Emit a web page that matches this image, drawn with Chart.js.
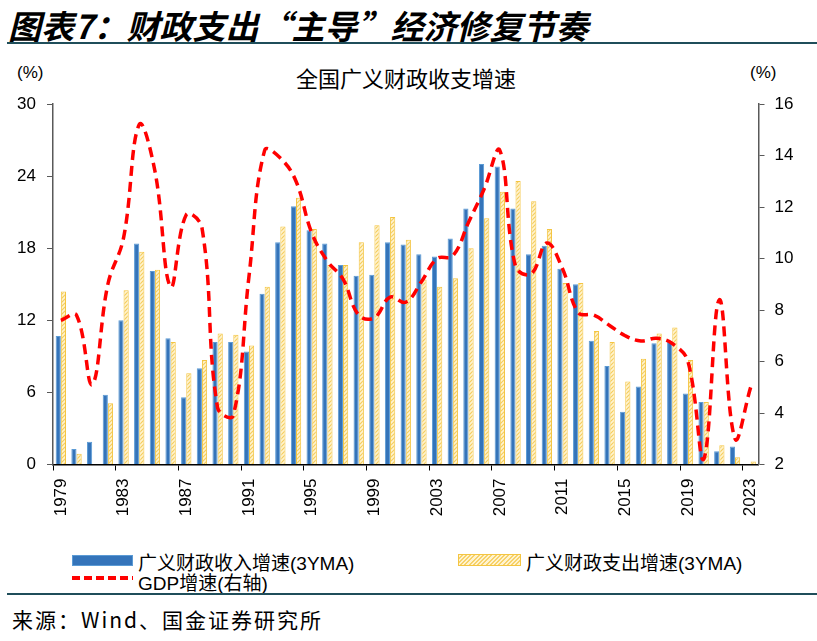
<!DOCTYPE html>
<html>
<head>
<meta charset="utf-8">
<script src="https://cdn.jsdelivr.net/npm/chart.js@4.4.1/dist/chart.umd.min.js"></script>
<style>
    body { margin: 0; width: 817px; height: 641px; background: #fff; position: relative; overflow: hidden;
           font-family: "Liberation Sans", "Noto Sans CJK SC", sans-serif; color: #000; }
    .abs { position: absolute; white-space: nowrap; }
    #header { left: 8px; top: 1px; font-size: 33px; font-weight: bold; font-style: italic; font-family: "Noto Sans CJK SC", sans-serif; }
    .rule { position: absolute; left: 7px; right: 0; height: 2px; background: #1f4e5a; }
    #chartBox { position: absolute; left: 0; top: 60px; width: 817px; height: 470px; }
    .sw { position: absolute; }
</style>
</head>
<body>
<div id="header" class="abs">图表7：财政支出“主导”经济修复节奏</div>
<div class="rule" style="top:42px"></div>

<div class="abs" style="left:17px; top:63px; font-size:17px;">(%)</div>
<div class="abs" style="left:750px; top:63px; font-size:17px;">(%)</div>
<div class="abs" style="left:296px; top:61px; font-size:22px; font-family:'Noto Sans CJK SC', sans-serif;">全国广义财政收支增速</div>

<div id="chartBox"><canvas id="fiscalChart"></canvas></div>

<!-- legenda -->
<div class="sw" style="left:72px; top:555px; width:59px; height:9px; background:#3474BA; border:1px solid #5B9BD5;"></div>
<div class="abs" style="left:138px; top:548px; font-size:19px;">广义财政收入增速(3YMA)</div>
<div class="sw" style="left:458px; top:554px; width:61px; height:10px; border:1px solid #F4C542;
     background: repeating-linear-gradient(135deg, #FFF3CF 0px, #FFF3CF 1.5px, #F7D26A 1.5px, #F7D26A 3px);"></div>
<div class="abs" style="left:526px; top:548px; font-size:19px;">广义财政支出增速(3YMA)</div>
<div class="sw" style="left:72px; top:576px; width:61px; height:4px;
     background: repeating-linear-gradient(90deg, #FF0000 0px, #FF0000 8px, transparent 8px, transparent 12px);"></div>
<div class="abs" style="left:138px; top:568px; font-size:19px;">GDP增速(右轴)</div>

<div class="rule" style="top:593px"></div>
<div class="abs" style="left:12px; top:604px; font-size:21px; letter-spacing:2px; font-family:'Noto Sans CJK SC', sans-serif;">来源：Wind、国金证券研究所</div>

<script>
// Anos (categorias)
const years = ['1979','1980','1981','1982','1983','1984','1985','1986','1987','1988',
    '1989','1990','1991','1992','1993','1994','1995','1996','1997','1998',
    '1999','2000','2001','2002','2003','2004','2005','2006','2007','2008',
    '2009','2010','2011','2012','2013','2014','2015','2016','2017','2018',
    '2019','2020','2021','2022','2023'];

// 广义财政收入增速(3YMA), eixo esquerdo
const revenueGrowth = [10.7, 1.3, 1.9, 5.8, 12.0, 18.4, 16.1, 10.5, 5.6, 8.0,
    10.2, 10.2, 9.4, 14.2, 18.5, 21.5, 19.5, 18.4, 16.6, 15.7,
    15.8, 18.5, 18.3, 17.5, 17.3, 18.8, 21.3, 25.0, 24.8, 21.3,
    17.5, 18.2, 16.3, 15.0, 10.3, 8.2, 4.4, 6.5, 10.1, 10.2,
    5.9, 5.2, 1.1, 1.5, null];

// 广义财政支出增速(3YMA), eixo esquerdo
const spendingGrowth = [14.4, 0.9, null, 5.1, 14.5, 17.7, 16.2, 10.2, 7.6, 8.7,
    10.9, 10.8, 9.9, 14.8, 19.8, 22.2, 19.6, 16.6, 16.6, 18.5,
    19.9, 20.6, 18.7, 15.4, 14.8, 15.5, 18.0, 20.5, 22.7, 23.6,
    21.9, 19.6, 15.1, 15.1, 11.1, 10.2, 6.9, 8.8, 10.9, 11.4,
    8.7, 5.2, 1.6, 0.6, 0.25];

// GDP增速, eixo direito
const gdpGrowth = [7.6, 7.8, 5.1, 9.0, 10.8, 15.2, 13.4, 8.9, 11.7, 11.2,
    4.2, 3.9, 9.3, 14.2, 13.9, 13.0, 11.0, 9.9, 9.2, 7.8,
    7.7, 8.5, 8.3, 9.1, 10.0, 10.1, 11.4, 12.7, 14.2, 9.7,
    9.4, 10.6, 9.6, 7.9, 7.8, 7.4, 7.0, 6.8, 6.9, 6.7,
    6.0, 2.2, 8.4, 3.0, 5.0];

// Textura hachurada para as barras de despesa
function makeHatch() {
    const c = document.createElement('canvas');
    c.width = 4; c.height = 4;
    const g = c.getContext('2d');
    g.fillStyle = '#FFF3CF';
    g.fillRect(0, 0, 4, 4);
    g.strokeStyle = '#F5CE5E';
    g.lineWidth = 1.2;
    g.beginPath();
    g.moveTo(0, 4); g.lineTo(4, 0);
    g.moveTo(-1, 1); g.lineTo(1, -1);
    g.moveTo(3, 5); g.lineTo(5, 3);
    g.stroke();
    return g.createPattern(c, 'repeat');
}

const tickFont = { family: 'Liberation Sans', size: 17 };

const ctx = document.getElementById('fiscalChart').getContext('2d');
new Chart(ctx, {
    type: 'bar',
    data: {
        labels: years,
        datasets: [
            {
                type: 'line',
                label: 'GDP增速(右轴)',
                data: gdpGrowth,
                yAxisID: 'y1',
                borderColor: '#FF0000',
                borderWidth: 3.5,
                borderDash: [10, 6],
                tension: 0.4,
                pointRadius: 0,
                fill: false,
                order: 0
            },
            {
                label: '广义财政收入增速(3YMA)',
                data: revenueGrowth,
                yAxisID: 'y',
                backgroundColor: '#3474BA',
                borderColor: '#5B9BD5',
                borderWidth: 1,
                barPercentage: 1.0,
                categoryPercentage: 0.66,
                order: 1
            },
            {
                label: '广义财政支出增速(3YMA)',
                data: spendingGrowth,
                yAxisID: 'y',
                backgroundColor: makeHatch(),
                borderColor: '#F4C542',
                borderWidth: 1,
                barPercentage: 1.0,
                categoryPercentage: 0.66,
                order: 1
            }
        ]
    },
    options: {
        responsive: true,
        maintainAspectRatio: false,
        animation: false,
        layout: { padding: { top: 44, left: 0, right: 0, bottom: 0 } },
        plugins: {
            legend: { display: false },
            tooltip: { enabled: false }
        },
        scales: {
            x: {
                offset: true,
                grid: {
                    offset: true,
                    drawOnChartArea: false,
                    tickLength: 6,
                    color: c => (c.index !== undefined && c.index % 4 === 0) ? '#000' : 'rgba(0,0,0,0)'
                },
                border: { color: '#000', width: 1.5 },
                ticks: {
                    autoSkip: false,
                    maxRotation: 90,
                    minRotation: 90,
                    padding: 8,
                    color: '#000',
                    font: tickFont,
                    callback: function (value, index) {
                        return index % 4 === 0 ? this.getLabelForValue(value) : '';
                    }
                },
                afterFit: scale => { scale.height = 65.5; }
            },
            y: {
                position: 'left',
                min: 0,
                max: 30,
                grid: { drawOnChartArea: false, tickLength: 6, color: '#595959' },
                border: { color: '#595959', width: 1.5 },
                ticks: { stepSize: 6, padding: 11, color: '#000', font: tickFont },
                afterFit: scale => { scale.width = 53; }
            },
            y1: {
                position: 'right',
                min: 2,
                max: 16,
                grid: { drawOnChartArea: false, tickLength: 6, color: '#595959' },
                border: { color: '#595959', width: 1.5 },
                ticks: { stepSize: 2, padding: 10, color: '#000', font: tickFont },
                afterFit: scale => { scale.width = 58.5; }
            }
        }
    }
});
</script>
</body>
</html>
